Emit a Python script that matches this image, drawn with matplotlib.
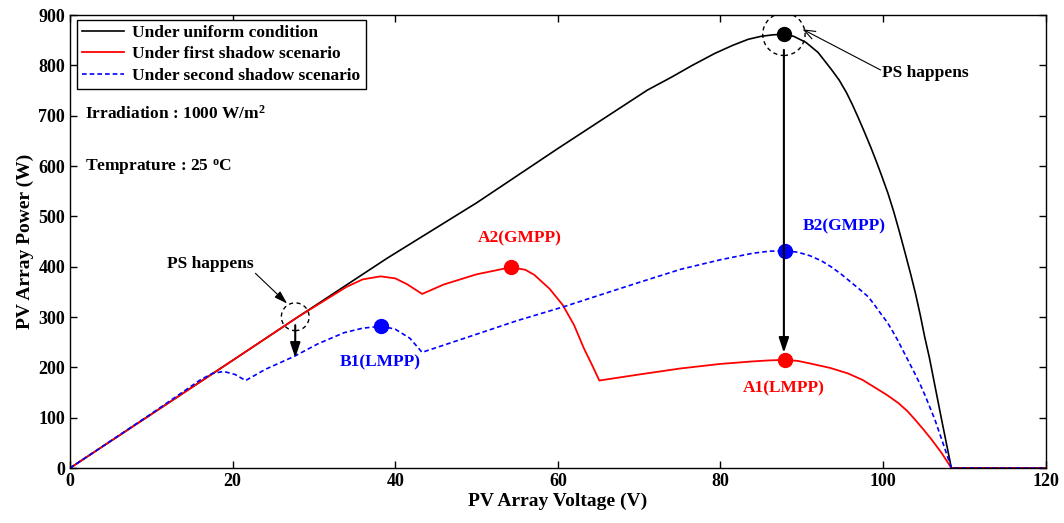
import matplotlib
matplotlib.use("Agg")
import matplotlib.pyplot as plt

plt.rcParams['font.family'] = ['Liberation Serif', 'DejaVu Serif']
plt.rcParams['font.weight'] = 'bold'
plt.rcParams['mathtext.fontset'] = 'custom'
plt.rcParams['mathtext.rm'] = 'Liberation Serif:bold'
plt.rcParams['mathtext.it'] = 'Liberation Serif:bold'
plt.rcParams['mathtext.bf'] = 'Liberation Serif:bold'

# P-V curves (voltage in V, power in W)
v_uniform = [0, 10, 20, 28, 39, 50, 60, 71, 74, 76.5, 79.3, 81.5, 83.4, 85, 86.5, 87.8,
             89, 90.5, 92, 93.6, 94.6, 95.5, 96.2, 96.9, 97.7, 98.5, 99.2, 99.8, 100.6,
             101.3, 102, 102.7, 103.4, 104, 104.6, 105.1, 105.7, 106.2, 106.7, 107.2,
             107.8, 108.4, 120]
p_uniform = [0, 107, 214, 300, 417, 527, 635, 751, 777, 800, 824, 840, 852, 858, 861, 862,
             858, 846, 826, 793, 771, 746, 723, 698, 668, 637, 608, 582, 546,
             510, 470, 428, 385, 346, 302, 262, 219, 178, 137, 96,
             48, 0, 0]

v_shadow1 = [0, 10, 20, 28, 32, 34, 36, 38.2, 40, 41.5, 43.3, 46, 50, 54.2, 56, 57.1, 59,
             60.6, 62, 63.2, 64.2, 65.1, 70, 75.1, 80, 84, 86, 87.9, 89.5, 91, 93.5, 95.7,
             97.5, 99, 100.5, 101.9, 103, 104, 105, 106, 107.2, 108.4, 120]
p_shadow1 = [0, 107, 214, 300, 340, 360, 375, 381, 377, 365, 346, 365, 385, 399, 394, 384, 356,
             324, 284, 238, 205, 174, 186, 198, 207, 212, 214, 215, 213, 208, 199, 188,
             175, 160, 145, 129, 113, 95, 76, 56, 30, 0, 0]

v_shadow2 = [0, 10, 16, 17.5, 18.9, 20.3, 21.6, 24, 27.7, 30.5, 33.7, 36, 38.3, 40, 41.8,
             43.3, 50, 55, 60.8, 65, 70, 75.1, 80, 84, 86, 87.9, 89.5, 91, 92.4, 93.6, 94.8,
             96, 97.2, 98.2, 99, 99.8, 100.5, 101.1, 101.8, 102.5, 103.2, 103.9, 104.6,
             105.2, 105.8, 106.4, 107.4, 108.4, 120]
p_shadow2 = [0, 108, 175, 188, 192, 186, 174, 196, 223, 247, 269, 278, 282, 276, 258,
             230, 266, 293, 321, 343, 369, 395, 414, 427, 431, 432, 429, 422, 412, 400, 386,
             370, 354, 340, 323, 305, 290, 274, 254, 232, 210, 188, 165,
             143, 119, 95, 48, 0, 0]

# maximum power points
mpp_uniform = (87.8, 862)
a1 = (87.9, 215)
a2 = (54.2, 399)
b1 = (38.3, 282)
b2 = (87.9, 432)

fs = 12.5

fig = plt.figure(figsize=(10.64, 5.23), dpi=100)
ax = fig.add_axes([0.0658, 0.105, 0.917, 0.866])

ax.plot(v_uniform, p_uniform, color='k', lw=1.2, label='Under uniform condition')
ax.plot(v_shadow1, p_shadow1, color='red', lw=1.3, label='Under first shadow scenario')
ax.plot(v_shadow2, p_shadow2, color='blue', lw=1.2, dashes=(2.8, 1.8),
        label='Under second shadow scenario')

ax.plot(*mpp_uniform, 'o', color='k', ms=10)
ax.plot(*a1, 'o', color='red', ms=10)
ax.plot(*a2, 'o', color='red', ms=10)
ax.plot(*b1, 'o', color='blue', ms=10)
ax.plot(*b2, 'o', color='blue', ms=10)

# dashed circles marking partial shading
ax.scatter([27.7], [300.7], s=400, facecolors='none', edgecolors='k',
           linewidths=1.0, linestyles=(0, (3, 2.5)), zorder=5)
ax.scatter([mpp_uniform[0]], [mpp_uniform[1]], s=930, facecolors='none', edgecolors='k',
           linewidths=1.0, linestyles=(0, (3, 2.5)), zorder=5)

# arrows
ax.annotate('', xy=(27.7, 219), xytext=(27.7, 284),
            arrowprops=dict(arrowstyle='-|>,head_length=0.9,head_width=0.3',
                            color='k', lw=1.5, mutation_scale=10, shrinkA=0, shrinkB=0))
ax.annotate('', xy=(mpp_uniform[0], 229), xytext=(mpp_uniform[0], 831),
            arrowprops=dict(arrowstyle='-|>,head_length=0.9,head_width=0.3',
                            color='k', lw=1.5, mutation_scale=10, shrinkA=0, shrinkB=0))
ax.annotate('', xy=(26.7, 327), xytext=(22.8, 387),
            arrowprops=dict(arrowstyle='-|>,head_length=0.8,head_width=0.25',
                            color='k', lw=0.8, mutation_scale=10, shrinkA=0, shrinkB=0))
ax.annotate('', xy=(90.1, 872), xytext=(99.7, 791),
            arrowprops=dict(arrowstyle='->,head_length=0.8,head_width=0.3',
                            color='k', lw=0.8, mutation_scale=10, shrinkA=0, shrinkB=0))
ax.text(17.2, 405, 'PS happens', ha='center', va='center', fontsize=fs, fontweight='bold')
ax.text(99.9, 786, 'PS happens', ha='left', va='center', fontsize=fs, fontweight='bold')

ax.text(55.3, 456, 'A2(GMPP)', color='red', fontsize=fs, fontweight='bold',
        ha='center', va='center')
ax.text(87.8, 159, 'A1(LMPP)', color='red', fontsize=fs, fontweight='bold',
        ha='center', va='center')
ax.text(95.2, 480, 'B2(GMPP)', color='blue', fontsize=fs, fontweight='bold',
        ha='center', va='center')
ax.text(38.1, 211, 'B1(LMPP)', color='blue', fontsize=fs, fontweight='bold',
        ha='center', va='center')

ax.text(1.8, 705, 'Irradiation : 1000 W/m$^2$', fontsize=fs, fontweight='bold',
        ha='left', va='center')
ax.text(1.8, 596, 'Temprature : 25 $^o$C', fontsize=fs, fontweight='bold',
        ha='left', va='center')

ax.set_xlim(0, 120)
ax.set_ylim(0, 900)
ax.set_xticks(range(0, 121, 20))
ax.set_yticks(range(0, 901, 100))
ax.tick_params(direction='in', top=True, right=True, length=5, width=1, labelsize=13)
for lab in ax.get_xticklabels() + ax.get_yticklabels():
    lab.set_fontweight('bold')
for sp in ax.spines.values():
    sp.set_linewidth(1.0)

ax.set_xlabel('PV Array Voltage (V)', fontsize=14, fontweight='bold', labelpad=2)
ax.set_ylabel('PV Array Power (W)', fontsize=14, fontweight='bold', labelpad=3)

leg = ax.legend(loc='upper left', bbox_to_anchor=(0.007, 0.99), borderaxespad=0,
                fancybox=False, edgecolor='k', framealpha=1, handlelength=2.4,
                prop={'size': fs, 'weight': 'bold'}, labelspacing=0.3,
                handletextpad=0.5, borderpad=0.3)
leg.get_frame().set_linewidth(1.0)

fig.savefig('out.png', dpi=100)
